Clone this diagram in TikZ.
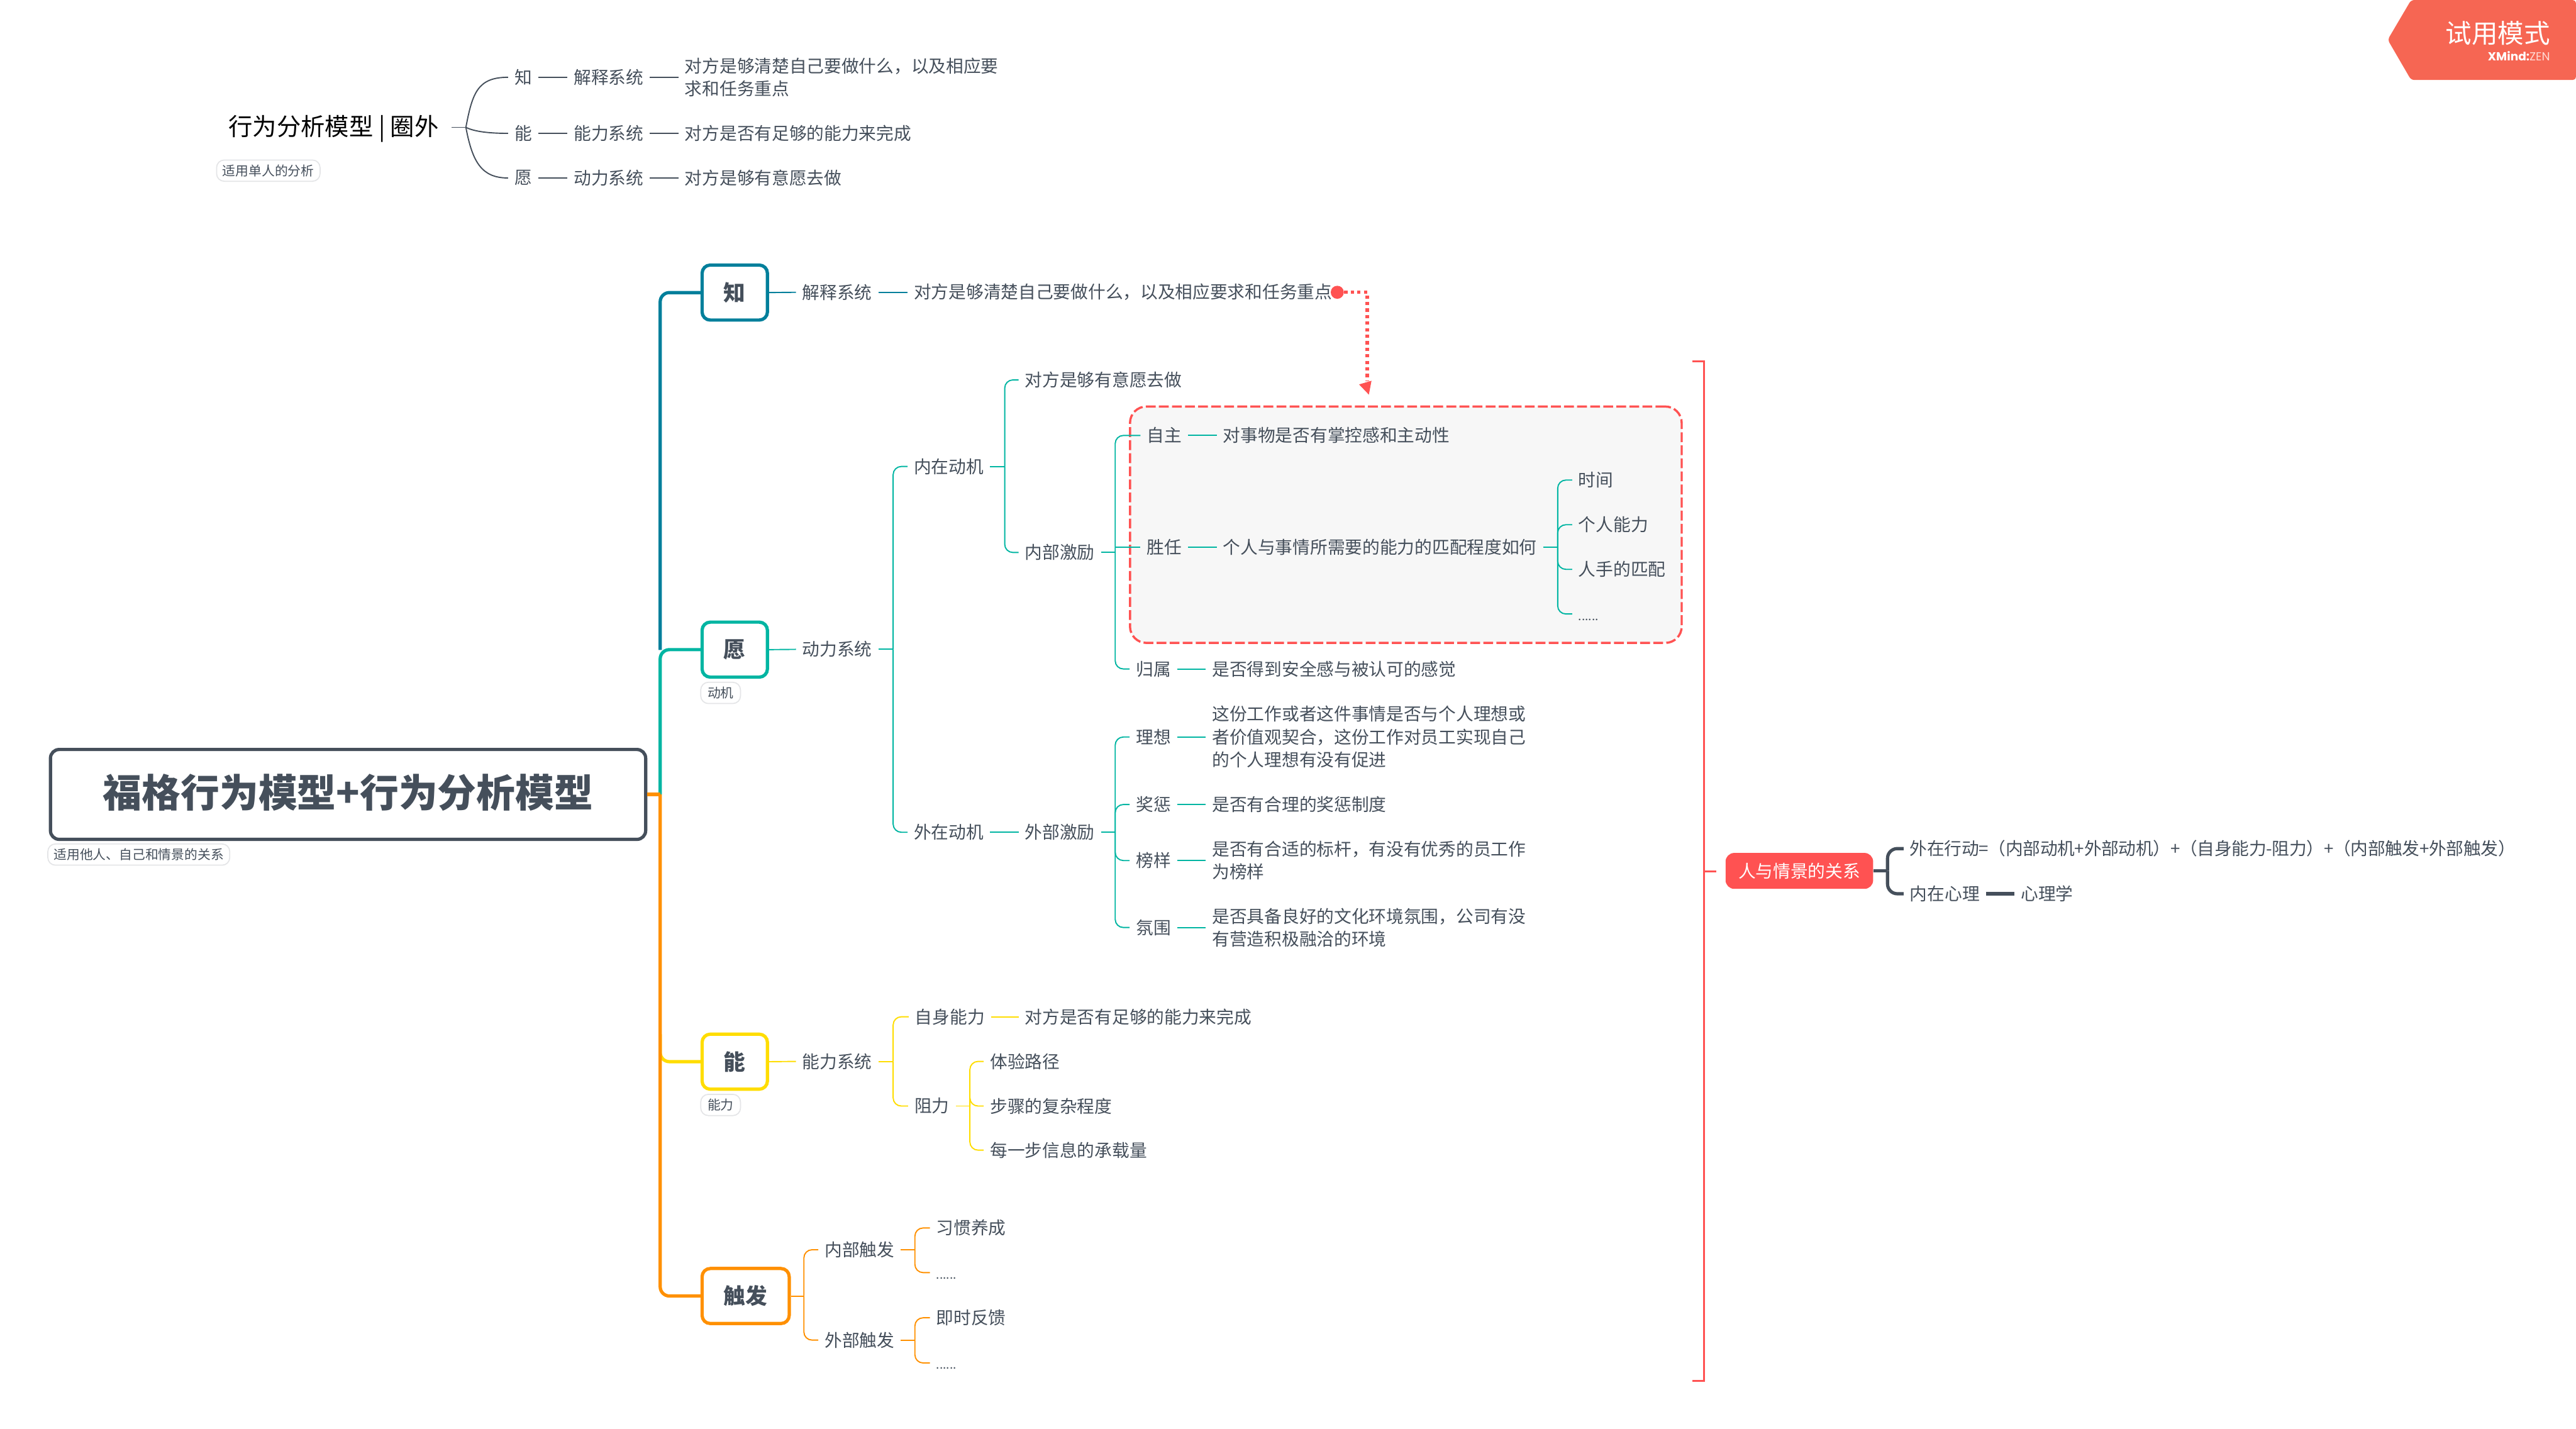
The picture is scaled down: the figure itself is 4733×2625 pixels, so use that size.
\documentclass[tikz,border=0pt]{standalone}
\usepackage{fontspec}
\setmainfont{Noto Sans CJK SC}
\newfontfamily\popfont{Poppins}
\usetikzlibrary{arrows.meta,calc}
\definecolor{cgray}{HTML}{454F5B}
\definecolor{cblue}{HTML}{017F9B}
\definecolor{cteal}{HTML}{00B5A2}
\definecolor{cyel}{HTML}{FFDD00}
\definecolor{corg}{HTML}{FF9000}
\definecolor{cred}{HTML}{FF5252}
\definecolor{cbadge}{HTML}{F66653}
\definecolor{ctag}{HTML}{E4E5E7}
\definecolor{cbox}{HTML}{F7F7F7}
\definecolor{czen}{HTML}{FFD9D3}
\newcommand\fsz[2]{\fontsize{#1}{#2}\selectfont}
\tikzset{
  txt/.style={anchor=west,xshift=-0.125cm,inner xsep=0.11cm,inner ysep=0pt,text=cgray,align=left,font=\fsz{9.105}{11.95}},
  topicbox/.style={draw,rounded corners=0.15cm,line width=0.06cm,fill=white,text=cgray,inner sep=0pt,minimum height=1.01cm,font=\fsz{11.4}{13}\bfseries},
  tagbox/.style={draw=ctag,line width=0.02cm,rounded corners=0.14cm,fill=white,text=cgray,inner sep=0pt,font=\fsz{6.83}{8}},
  lnk/.style={line width=0.022cm},
  brk/.style={line width=0.022cm,rounded corners=0.15cm},
  thick link/.style={line width=0.06cm},
  main link/.style={line width=0.06cm,rounded corners=0.17cm}
}
\newcommand\tn[5][]{\node[txt,#1] (#2) at (#3,#4) {#5};}
\newcommand\dn[3]{\node[txt] (#1) at (#2,#3) {\vphantom{国}{\fsz{6.3}{7}......}};}
% straight link between two nodes
\newcommand\lk[2]{\draw[lnk] (#1.east) -- (#2.west);}
% stub from parent to spine, and branch from spine to child
\newcommand\stb[2]{\draw[lnk] (#1.east) -- (#1.east -| #2);}
\newcommand\brn[3]{\draw[brk] (#1.east -| #2) |- (#3.west);}
\begin{document}
\begin{tikzpicture}[x=0.01cm,y=-0.01cm]
\useasboundingbox (0,0) rectangle (4733,2625);

% spine positions
\coordinate (tr) at (1213,0);
\coordinate (va) at (1641,0);
\coordinate (vb) at (1846,0);
\coordinate (vc) at (2049,0);
\coordinate (vd) at (2862,0);
\coordinate (ve) at (1782,0);
\coordinate (vf) at (1477,0);
\coordinate (vg) at (1681,0);
\coordinate (vh) at (3468,0);

% badge
\fill[cbadge,rounded corners=0.06cm] (4387,73) -- (4430,0) -- (4733,0) -- (4733,147) -- (4430,147) -- cycle;
\node[anchor=east,inner sep=0pt,text=white,font=\fsz{13.65}{15}] (bdgt) at (4686,61) {试用模式};
\node[anchor=east,inner sep=0pt,text=white,font=\fsz{6.1}{7}\popfont] (bdgx) at (4686,103) {\textbf{XMind:}\textcolor{czen}{ZEN}};

% ---- top small map
\node[anchor=center,inner sep=0pt,text=black,font=\fsz{12.6}{14}] (t0) at (613,236) {行为分析模型 | 圈外};
\node[tagbox,minimum width=1.9cm,minimum height=0.39cm] (t0tag) at (493,313.5) {适用单人的分析};
\tn{ta}{946}{142}{知}
\tn{tb}{946}{245}{能}
\tn{tc}{946}{327}{愿}
\tn{tas}{1055}{142}{解释系统}
\tn{tbs}{1055}{245}{能力系统}
\tn{tcs}{1055}{327}{动力系统}
\tn{tat}{1259}{142}{对方是够清楚自己要做什么，以及相应要\\求和任务重点}
\tn{tbt}{1259}{245}{对方是否有足够的能力来完成}
\tn{tct}{1259}{327}{对方是够有意愿去做}
\begin{scope}[cgray]
\coordinate (t0r) at (830,234);
\coordinate (t0j) at (856,234);
\draw[lnk] (t0r) -- (t0j);
\draw[lnk] (t0j) .. controls (868,170) and (878,142) .. (ta.west);
\draw[lnk] (t0j) .. controls (868,240) and (890,245) .. (tb.west);
\draw[lnk] (t0j) .. controls (868,298) and (885,327) .. (tc.west);
\lk{ta}{tas}\lk{tb}{tbs}\lk{tc}{tcs}
\lk{tas}{tat}\lk{tbs}{tbt}\lk{tcs}{tct}
\end{scope}

% ---- highlighted box
\node[draw=cred,fill=cbox,line width=0.04cm,dash pattern=on 0.18cm off 0.06cm,rounded corners=0.3cm,minimum width=10.13cm,minimum height=4.34cm,inner sep=0pt] (redbox) at (2583,964) {};

% ---- main topics
\node[draw=cgray,line width=0.06cm,rounded corners=0.16cm,fill=white,minimum width=10.93cm,minimum height=1.65cm,inner sep=0pt,text=cgray,text depth=0.146cm,font=\fsz{20.3}{24}\bfseries] (root) at (639.5,1459.5) {福格行为模型+行为分析模型};
\node[tagbox,minimum width=3.34cm,minimum height=0.39cm] (roottag) at (255,1570) {适用他人、自己和情景的关系};
\node[topicbox,draw=cblue,minimum width=1.2cm] (zhi) at (1350,537.5) {知};
\node[topicbox,draw=cteal,minimum width=1.2cm] (yuan) at (1350,1193.5) {愿};
\node[tagbox,minimum width=0.73cm,minimum height=0.39cm] (yuantag) at (1324,1273) {动机};
\node[topicbox,draw=cyel,minimum width=1.2cm] (neng) at (1350,1950.5) {能};
\node[tagbox,minimum width=0.73cm,minimum height=0.39cm] (nengtag) at (1324,2030) {能力};
\node[topicbox,draw=corg,minimum width=1.6cm] (chufa) at (1370,2381) {触发};

\coordinate (rj) at (root.east -| tr);
\draw[main link,cyel] (neng.west) -| (1213,1900);
\draw[main link,cblue] (1213,1194) |- (zhi.west);
\draw[main link,cteal] (rj) |- (yuan.west);
\draw[main link,corg] (rj) |- (chufa.west);
\draw[thick link,corg] (root.east) -- (rj);

% ---- zhi branch
\tn{z1}{1475}{537}{解释系统}
\tn{z2}{1680}{537}{对方是够清楚自己要做什么，以及相应要求和任务重点}
\begin{scope}[cblue]
\lk{zhi}{z1}\lk{z1}{z2}
\end{scope}
\node[circle,fill=cred,inner sep=0pt,minimum size=0.24cm] (reddot) at (2457,537) {};
\coordinate (rcorner) at (2512,700);
\coordinate (rbase) at (2508.5,703);
\coordinate (rarrow) at (2515,725);
\draw[cred,line width=0.06cm,dash pattern=on 0.06cm off 0.06cm] (reddot.east) -| (rcorner);
\draw[cred,line width=0.01cm,-{Triangle[width=0.235cm,length=0.23cm]}] (rbase) -- (rarrow);

% ---- yuan branch
\tn{y1}{1475}{1193}{动力系统}
\tn{y2}{1680}{857}{内在动机}
\tn{y3}{1884}{698}{对方是够有意愿去做}
\tn{y4}{1884}{1015}{内部激励}
\tn{y5}{2108}{800}{自主}
\tn{y6}{2248}{800}{对事物是否有掌控感和主动性}
\tn{y7}{2108}{1005}{胜任}
\tn{y8}{2248}{1005}{个人与事情所需要的能力的匹配程度如何}
\tn{y9}{2901}{882}{时间}
\tn{y10}{2901}{964}{个人能力}
\tn{y11}{2901}{1046}{人手的匹配}
\dn{y12}{2901}{1128}
\tn{y13}{2088}{1229}{归属}
\tn{y14}{2228}{1229}{是否得到安全感与被认可的感觉}
\tn{y15}{1680}{1529}{外在动机}
\tn{y16}{1884}{1529}{外部激励}
\tn{y17}{2088}{1354}{理想}
\tn{y18}{2228}{1354}{这份工作或者这件事情是否与个人理想或\\者价值观契合，这份工作对员工实现自己\\的个人理想有没有促进}
\tn{y19}{2088}{1478}{奖惩}
\tn{y20}{2228}{1478}{是否有合理的奖惩制度}
\tn{y21}{2088}{1581}{榜样}
\tn{y22}{2228}{1581}{是否有合适的标杆，有没有优秀的员工作\\为榜样}
\tn{y23}{2088}{1704}{氛围}
\tn{y24}{2228}{1704}{是否具备良好的文化环境氛围，公司有没\\有营造积极融洽的环境}
\begin{scope}[cteal]
\lk{yuan}{y1}
\stb{y1}{va}\brn{y1}{va}{y2}\brn{y1}{va}{y15}
\stb{y2}{vb}\brn{y2}{vb}{y3}\brn{y2}{vb}{y4}
\stb{y4}{vc}
\draw[brk] (y7.west -| vc) |- (y5.west);
\draw[brk] (y7.west -| vc) |- (y13.west);
\draw[lnk] (y7.west -| vc) -- (y7.west);
\lk{y5}{y6}\lk{y7}{y8}\lk{y13}{y14}
\stb{y8}{vd}\brn{y8}{vd}{y9}\brn{y8}{vd}{y10}\brn{y8}{vd}{y11}\brn{y8}{vd}{y12}
\lk{y15}{y16}
\stb{y16}{vc}
\brn{y16}{vc}{y17}\brn{y16}{vc}{y19}\brn{y16}{vc}{y21}\brn{y16}{vc}{y23}
\lk{y17}{y18}\lk{y19}{y20}\lk{y21}{y22}\lk{y23}{y24}
\end{scope}

% ---- neng branch
\tn{n1}{1475}{1950}{能力系统}
\tn{n2}{1682}{1868}{自身能力}
\tn{n3}{1884}{1868}{对方是否有足够的能力来完成}
\tn{n4}{1681}{2032}{阻力}
\tn{n5}{1820}{1950}{体验路径}
\tn{n6}{1820}{2032}{步骤的复杂程度}
\tn{n7}{1820}{2113}{每一步信息的承载量}
\begin{scope}[cyel]
\lk{neng}{n1}
\stb{n1}{va}\brn{n1}{va}{n2}\brn{n1}{va}{n4}
\lk{n2}{n3}
\stb{n4}{ve}\brn{n4}{ve}{n5}\brn{n4}{ve}{n6}\brn{n4}{ve}{n7}
\end{scope}

% ---- chufa branch
\tn{c1}{1516}{2296}{内部触发}
\tn{c2}{1516}{2462}{外部触发}
\tn{c3}{1721}{2256}{习惯养成}
\dn{c4}{1721}{2338}
\tn{c5}{1721}{2421}{即时反馈}
\dn{c6}{1721}{2504}
\begin{scope}[corg]
\draw[lnk] (chufa.east) -- (chufa.east -| vf);
\draw[brk] (chufa.east -| vf) |- (c1.west);
\draw[brk] (chufa.east -| vf) |- (c2.west);
\stb{c1}{vg}\brn{c1}{vg}{c3}\brn{c1}{vg}{c4}
\stb{c2}{vg}\brn{c2}{vg}{c5}\brn{c2}{vg}{c6}
\end{scope}

% ---- right bracket & relation
\coordinate (ba) at (3110,664);
\coordinate (bb) at (3131,664);
\coordinate (bc) at (3131,2537);
\coordinate (bd) at (3110,2537);
\coordinate (be) at (3131,1601);
\coordinate (bf) at (3153,1601);
\draw[cred,line width=0.04cm] (ba) -- (bb) -- (bc) -- (bd);
\draw[cred,line width=0.04cm] (be) -- (bf);
\node[fill=cred,rounded corners=0.16cm,text=white,minimum width=2.71cm,minimum height=0.66cm,inner sep=0pt,font=\fsz{9.105}{11}] (rel) at (3306,1600) {人与情景的关系};
\tn{r1}{3510}{1559}{\addfontfeature{LetterSpace=-1}外在行动=（内部动机+外部动机）+（自身能力-阻力）+（内部触发+外部触发）}
\tn{r2}{3510}{1642}{内在心理}
\tn{r3}{3714}{1642}{心理学}
\begin{scope}[cgray]
\draw[thick link] (rel.east) -- (rel.east -| vh);
\draw[thick link,rounded corners=0.18cm] (rel.east -| vh) |- (r1.west);
\draw[thick link,rounded corners=0.18cm] (rel.east -| vh) |- (r2.west);
\draw[thick link] (r2.east) -- (r3.west);
\end{scope}
\end{tikzpicture}
\end{document}
